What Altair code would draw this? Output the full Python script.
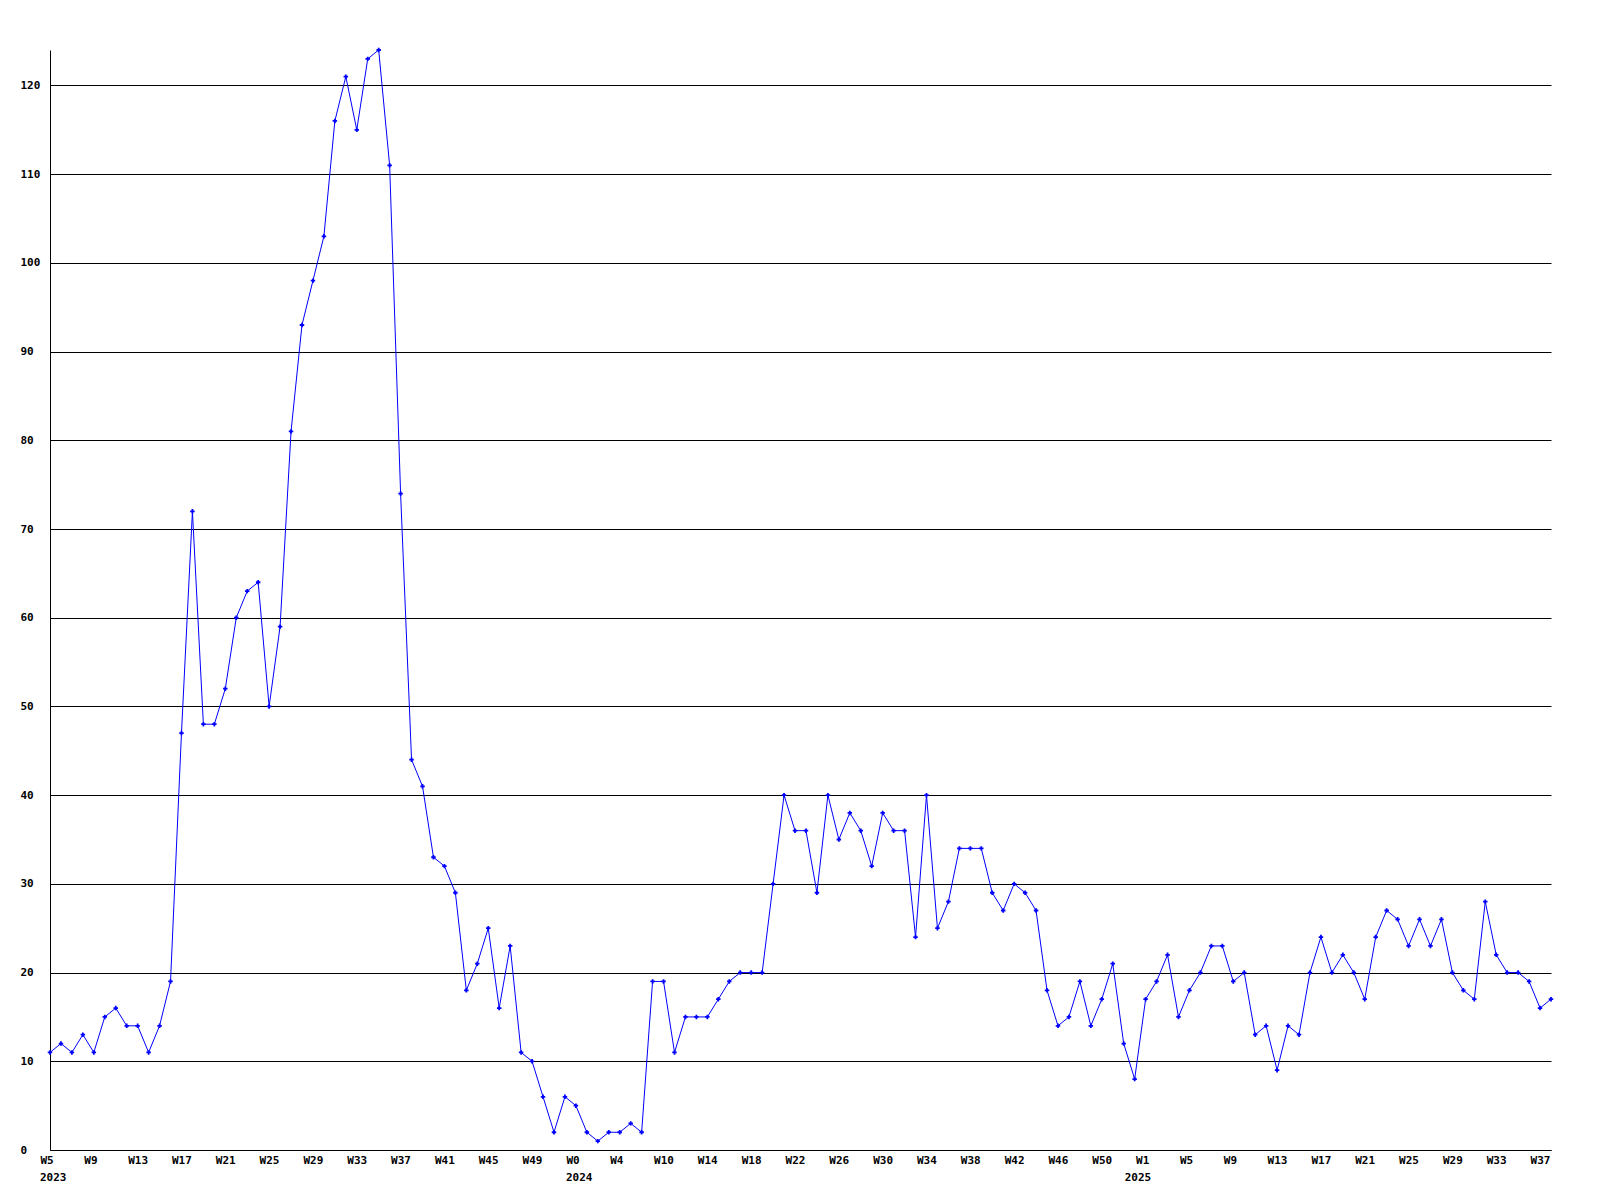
import json
import altair as alt
import pandas as pd

# Weekly counts, 2023 W5 .. 2025 W38 (one value per week)
values = [
    11, 12, 11, 13, 11, 15, 16, 14, 14, 11, 14, 19,
    47, 72, 48, 48, 52, 60, 63, 64, 50, 59,
    81, 93, 98, 103, 116, 121, 115, 123, 124, 111,
    74, 44, 41, 33, 32, 29, 18, 21, 25, 16,
    23, 11, 10, 6, 2, 6, 5, 2, 1, 2,
    2, 3, 2, 19, 19, 11, 15, 15, 15, 17,
    19, 20, 20, 20, 30, 40, 36, 36, 29, 40,
    35, 38, 36, 32, 38, 36, 36, 24, 40, 25,
    28, 34, 34, 34, 29, 27, 30, 29, 27, 18,
    14, 15, 19, 14, 17, 21, 12, 8, 17, 19,
    22, 15, 18, 20, 23, 23, 19, 20, 13, 14,
    9, 14, 13, 20, 24, 20, 22, 20, 17, 24,
    27, 26, 23, 26, 23, 26, 20, 18, 17, 28,
    22, 20, 20, 19, 16, 17,
]

# x-axis tick labels (one every 4 weeks)
tick_labels = [
    "W5", "W9", "W13", "W17", "W21", "W25", "W29", "W33", "W37", "W41", "W45", "W49",
    "W0", "W4", "W10", "W14", "W18", "W22", "W26", "W30", "W34", "W38", "W42", "W46", "W50",
    "W1", "W5", "W9", "W13", "W17", "W21", "W25", "W29", "W33", "W37",
]
# year captions under the axis (week index where each is placed)
year_names = ["2023", "2024", "2025"]
year_pos = [0, 48, 99]
y_ticks = list(range(0, 130, 10))

tick_step = 4
tick_values = [i * tick_step for i in range(len(tick_labels))]
label_expr = json.dumps(tick_labels) + "[round(datum.value / %d)]" % tick_step

df = pd.DataFrame({"idx": list(range(len(values))), "count": values})
years_df = pd.DataFrame({"idx": year_pos, "year": year_names})

FONT = "DejaVu Sans Mono"
BLUE = "#0000ff"
H = 1100

xscale = alt.Scale(domain=[0, len(values) - 1], nice=False, zero=False)
x = alt.X(
    "idx:Q",
    scale=xscale,
    axis=alt.Axis(
        values=tick_values,
        labelExpr=label_expr,
        title=None,
        grid=False,
        ticks=False,
        tickSize=0,
        labelAlign="left",
        labelBaseline="top",
        labelOffset=-10,
        labelPadding=4,
        labelFont=FONT,
        labelFontWeight="bold",
        labelFontSize=11,
        labelColor="black",
        domainColor="black",
        labelOverlap=False,
        labelFlush=False,
    ),
)
y = alt.Y(
    "count:Q",
    scale=alt.Scale(domain=[0, 124], nice=False),
    axis=alt.Axis(
        values=y_ticks,
        title=None,
        grid=True,
        gridColor="black",
        gridOpacity=1,
        gridWidth=1,
        ticks=False,
        tickSize=0,
        labelAlign="left",
        labelBaseline="middle",
        labelPadding=30,
        labelFont=FONT,
        labelFontWeight="bold",
        labelFontSize=11,
        labelColor="black",
        domainColor="black",
        labelOverlap=False,
        labelFlush=False,
    ),
)

line = alt.Chart(df).mark_line(color=BLUE, strokeWidth=1).encode(x=x, y=y)
pts = alt.Chart(df).mark_point(
    shape="cross", filled=True, size=20, color=BLUE, opacity=1
).encode(x=x, y=y)
years = alt.Chart(years_df).mark_text(
    align="left", baseline="top", dx=-10, font=FONT, fontWeight="bold",
    fontSize=11, color="black",
).encode(
    x=x,
    y=alt.value(H + 22),
    text="year:N",
)

chart = (
    alt.layer(line, pts, years)
    .properties(
        width=1501,
        height=H,
        padding={"left": 42, "top": 42, "right": 40, "bottom": 40},
        autosize=alt.AutoSizeParams(type="none"),
        background="white",
    )
    .configure_view(strokeWidth=0)
)

chart.save("out.html", embed_options={"renderer": "svg", "actions": False})
